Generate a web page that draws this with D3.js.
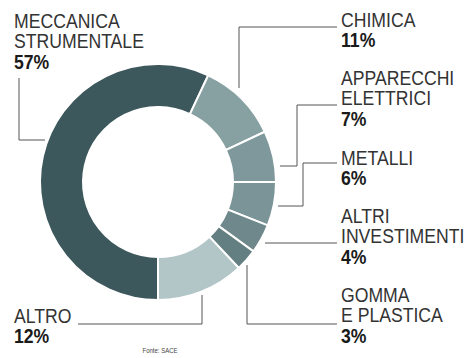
<!DOCTYPE html>
<html>
<head>
<meta charset="utf-8">
<script src="https://cdn.jsdelivr.net/npm/d3@7"></script>
<style>
  html, body { margin: 0; padding: 0; background: #fff; }
  svg text { font-family: "Liberation Sans", Arial, sans-serif; }
</style>
</head>
<body>
<svg id="chart" width="469" height="358"></svg>
<script>
// ==========================
// DATA
// ==========================
const categories = ["MECCANICA STRUMENTALE", "CHIMICA", "APPARECCHI ELETTRICI", "METALLI", "ALTRI INVESTIMENTI", "GOMMA E PLASTICA", "ALTRO"];
const values = [57, 11, 7, 6, 4, 3, 12];
const labelLines = [
  ["MECCANICA", "STRUMENTALE"],
  ["CHIMICA"],
  ["APPARECCHI", "ELETTRICI"],
  ["METALLI"],
  ["ALTRI", "INVESTIMENTI"],
  ["GOMMA", "E PLASTICA"],
  ["ALTRO"]
];
const colors = ["#3c585c", "#87a0a2", "#7f989b", "#7a9497", "#6e888b", "#647f82", "#b3c6c7"];

// ==========================
// LAYOUT
// ==========================
const svg = d3.select("#chart");
const cx = 158, cy = 182;
const outerR = 118, innerR = 75;
const lineH = 20.5;
const squeeze = 0.86; // condensed look

// label positions: x, baseline of first line, leader polyline
const labelLayout = [
  { x: 14,  y: 28,  leader: [[19, 78], [19, 140], [45, 140]] },
  { x: 341, y: 27,  leader: [[337, 27], [239, 27], [239, 88]] },
  { x: 341, y: 85,  leader: [[337, 105], [297, 105], [297, 166], [280, 166]] },
  { x: 341, y: 165, leader: [[337, 163], [303, 163], [303, 206], [278, 206]] },
  { x: 341, y: 223, leader: [[337, 243], [265, 243]] },
  { x: 341, y: 302, leader: [[337, 324], [247, 324], [247, 265]] },
  { x: 14,  y: 323, leader: [[78, 324], [202, 324], [202, 295]] }
];

const pie = d3.pie().sort(null).startAngle(Math.PI).endAngle(3 * Math.PI);
const arc = d3.arc().innerRadius(innerR).outerRadius(outerR);

// Draw donut
svg.append("g")
    .attr("transform", `translate(${cx},${cy})`)
  .selectAll("path")
  .data(pie(values))
  .enter()
  .append("path")
    .attr("d", arc)
    .attr("fill", (d, i) => colors[i])
    .attr("stroke", "#fff")
    .attr("stroke-width", 2);

// Leader lines
const line = d3.line();
svg.append("g")
  .selectAll("path")
  .data(labelLayout)
  .enter()
  .append("path")
    .attr("d", d => line(d.leader))
    .attr("fill", "none")
    .attr("stroke", "#555")
    .attr("stroke-width", 1);

// Labels
const labels = svg.append("g")
  .selectAll("text")
  .data(labelLayout)
  .enter()
  .append("text")
    .attr("transform", d => `translate(${d.x},${d.y}) scale(${squeeze},1)`)
    .attr("font-size", 20.5)
    .attr("fill", "#333");

labels.each(function(d, i) {
  const t = d3.select(this);
  labelLines[i].forEach((s, j) => {
    t.append("tspan").attr("x", 0).attr("y", j * lineH).text(s);
  });
  t.append("tspan")
    .attr("x", 0)
    .attr("y", labelLines[i].length * lineH)
    .attr("font-weight", "bold")
    .attr("fill", "#1a1a1a")
    .text(values[i] + "%");
});

// Source
svg.append("text")
    .attr("transform", "translate(160,353) scale(0.8,1)")
    .attr("text-anchor", "middle")
    .attr("font-size", 7.5)
    .attr("fill", "#444")
    .text("Fonte: SACE");
</script>
</body>
</html>
